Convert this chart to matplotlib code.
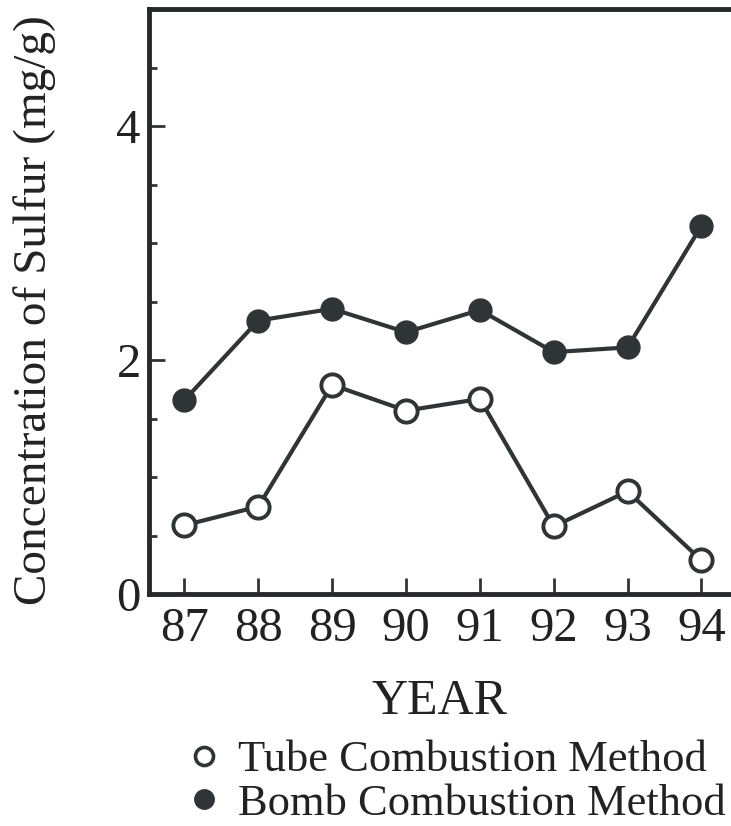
import matplotlib
matplotlib.use('Agg')
import matplotlib.pyplot as plt
from matplotlib.lines import Line2D

plt.rcParams['font.family'] = ['Liberation Serif', 'DejaVu Serif']

years = [87, 88, 89, 90, 91, 92, 93, 94]
tube = [0.59, 0.75, 1.79, 1.57, 1.67, 0.58, 0.88, 0.29]
bomb = [1.66, 2.34, 2.44, 2.24, 2.43, 2.07, 2.11, 3.15]
ytick_major = [0, 2, 4]
ytick_minor = [0.5, 1, 1.5, 2.5, 3, 3.5, 4.5]
legend_labels = ['Tube Combustion Method', 'Bomb Combustion Method']

ink = '#2f3436'
W, H = 731, 826
fig = plt.figure(figsize=(W / 100, H / 100), dpi=100)
ax = fig.add_axes([149 / W, 1 - 594.3 / H, 1 - 149 / W, (594.3 - 9.3) / H])

ax.plot(years, bomb, '-o', color=ink, lw=3, ms=16.5, mfc=ink, mec=ink, zorder=3)
ax.plot(years, tube, '-o', color=ink, lw=3, ms=16, mfc='white', mec=ink, mew=2.8, zorder=3)

ax.set_xlim(86.52, 94.40)
ax.set_ylim(0, 5.0)
ax.set_xticks(years)
ax.set_xticklabels([str(y) for y in years])
ax.set_yticks(ytick_major)
ax.set_yticklabels([str(v) for v in ytick_major])
ax.set_yticks(ytick_minor, minor=True)

ax.tick_params(axis='x', direction='in', length=11.5, width=2, color=ink,
               labelsize=35, pad=9, labelcolor='#222222')
ax.tick_params(axis='y', which='major', direction='in', length=11.5, width=2,
               color=ink, labelsize=35, pad=6, labelcolor='#222222')
ax.tick_params(axis='y', which='minor', direction='in', length=5.5, width=2, color=ink)

ax.spines['right'].set_visible(False)
for s in ['left', 'bottom', 'top']:
    ax.spines[s].set_linewidth(3.5)
    ax.spines[s].set_color('#262a2c')

fig.text(35 / W, 1 - 310 / H, 'Concentration of Sulfur (mg/g)', rotation=90,
         ha='center', va='center', fontsize=34, color='#222222')
fig.text(440 / W, 1 - 702 / H, 'YEAR', ha='center', va='center',
         fontsize=36, color='#222222')

handles = [
    Line2D([], [], ls='none', marker='o', ms=13, mfc='white', mec=ink, mew=2.6),
    Line2D([], [], ls='none', marker='o', ms=14, mfc=ink, mec=ink),
]
fig.legend(handles, legend_labels, loc='upper left',
           bbox_to_anchor=(187 / W, 1 - 740 / H), frameon=False,
           fontsize=32, handlelength=0.75, handletextpad=0.4,
           labelspacing=0.08, borderpad=0, borderaxespad=0,
           labelcolor='#222222')

fig.savefig('out.png', dpi=100)
